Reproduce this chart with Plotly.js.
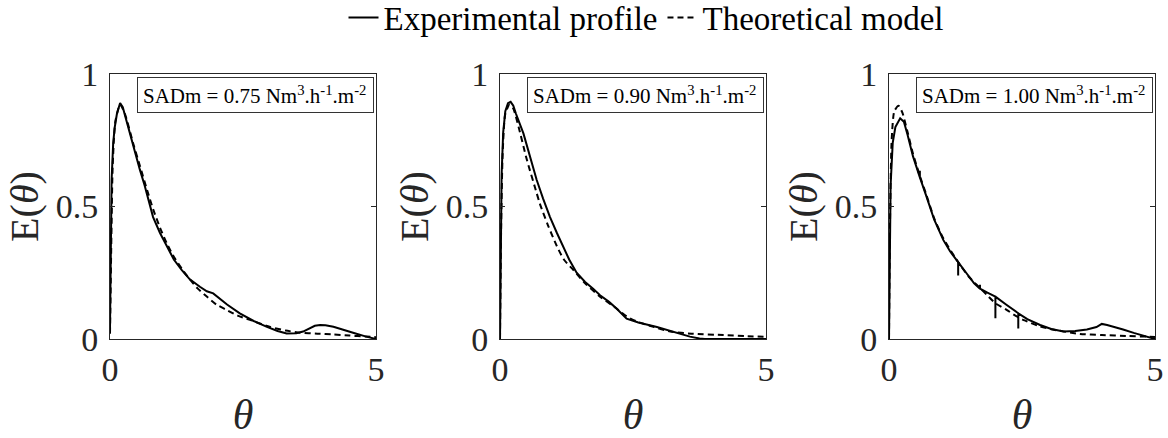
<!DOCTYPE html>
<html>
<head>
<meta charset="utf-8">
<script src="https://cdn.plot.ly/plotly-3.0.1.min.js"></script>
<style>html,body{margin:0;padding:0;background:#fff;}#chart{width:1168px;height:438px;}</style>
</head>
<body>
<div id="chart"></div>
<script>
// ---- Data ----
const panelLabels = ["SADm = 0.75 Nm<sup>3</sup>.h<sup>-1</sup>.m<sup>-2</sup>",
                     "SADm = 0.90 Nm<sup>3</sup>.h<sup>-1</sup>.m<sup>-2</sup>",
                     "SADm = 1.00 Nm<sup>3</sup>.h<sup>-1</sup>.m<sup>-2</sup>"];
const seriesNames = ["Experimental profile", "Theoretical model"];

// Panel 1 (SADm = 0.75)
const exp1Theta = [0, 0.01, 0.03, 0.06, 0.09, 0.13, 0.19, 0.24, 0.28, 0.35, 0.44, 0.50, 0.56, 0.65, 0.81, 0.94, 1.07, 1.20, 1.35, 1.50, 1.69, 1.82, 1.94, 2.05, 2.20, 2.44, 2.70, 2.95, 3.15, 3.32, 3.50, 3.63, 3.75, 3.85, 3.95, 4.05, 4.20, 4.40, 4.60, 4.80, 4.95, 5.00];
const exp1E     = [0.04, 0.25, 0.60, 0.74, 0.80, 0.85, 0.89, 0.875, 0.845, 0.79, 0.726, 0.68, 0.64, 0.58, 0.46, 0.40, 0.35, 0.30, 0.26, 0.225, 0.197, 0.18, 0.172, 0.155, 0.13, 0.097, 0.068, 0.046, 0.030, 0.021, 0.022, 0.028, 0.040, 0.050, 0.053, 0.052, 0.046, 0.035, 0.022, 0.010, 0.003, 0.0];
const mod1Theta = [0, 0.02, 0.05, 0.10, 0.19, 0.28, 0.44, 0.56, 0.70, 0.81, 0.94, 1.07, 1.20, 1.35, 1.50, 1.65, 1.82, 2.00, 2.19, 2.40, 2.63, 3.00, 3.30, 3.57, 3.90, 4.20, 4.50, 4.82, 5.00];
const mod1E     = [0.02, 0.30, 0.65, 0.82, 0.885, 0.85, 0.735, 0.655, 0.56, 0.49, 0.42, 0.36, 0.31, 0.265, 0.225, 0.19, 0.16, 0.13, 0.11, 0.088, 0.072, 0.046, 0.032, 0.024, 0.020, 0.017, 0.013, 0.009, 0.007];

// Panel 2 (SADm = 0.90)
const exp2Theta = [0, 0.01, 0.03, 0.06, 0.10, 0.15, 0.20, 0.25, 0.30, 0.44, 0.56, 0.69, 0.81, 0.94, 1.07, 1.19, 1.30, 1.44, 1.60, 1.75, 1.88, 2.05, 2.19, 2.38, 2.60, 2.95, 3.20, 3.40, 3.57, 3.75, 3.85, 5.00];
const exp2E     = [0.0, 0.30, 0.62, 0.78, 0.86, 0.89, 0.895, 0.88, 0.85, 0.776, 0.69, 0.60, 0.53, 0.46, 0.40, 0.35, 0.30, 0.25, 0.215, 0.19, 0.165, 0.14, 0.115, 0.077, 0.062, 0.045, 0.030, 0.017, 0.009, 0.002, 0.0, 0.0];
const mod2Theta = [0, 0.02, 0.05, 0.10, 0.18, 0.25, 0.35, 0.50, 0.69, 0.75, 0.90, 1.07, 1.20, 1.38, 1.60, 1.88, 2.19, 2.38, 2.57, 2.90, 3.20, 3.60, 4.20, 4.60, 5.00];
const mod2E     = [0.0, 0.40, 0.70, 0.85, 0.885, 0.87, 0.80, 0.68, 0.55, 0.51, 0.43, 0.35, 0.30, 0.26, 0.21, 0.16, 0.115, 0.085, 0.066, 0.045, 0.028, 0.020, 0.015, 0.011, 0.008];

// Panel 3 (SADm = 1.00) – experimental trace has sharp sampling spikes
const exp3Theta = [0, 0.01, 0.03, 0.07, 0.12, 0.21, 0.28, 0.35, 0.45, 0.58, 0.58, 0.58, 0.70, 0.85, 1.02, 1.15, 1.30, 1.30, 1.30, 1.45, 1.60, 1.71, 1.71, 1.71, 1.85, 2.00, 2.00, 2.00, 2.20, 2.43, 2.43, 2.43, 2.60, 2.84, 3.05, 3.28, 3.50, 3.72, 3.90, 4.00, 4.10, 4.22, 4.40, 4.60, 4.80, 4.97, 5.00];
const exp3E     = [0.0, 0.30, 0.58, 0.74, 0.80, 0.833, 0.82, 0.77, 0.69, 0.61, 0.635, 0.61, 0.54, 0.45, 0.374, 0.33, 0.29, 0.24, 0.29, 0.25, 0.21, 0.19, 0.205, 0.19, 0.175, 0.16, 0.078, 0.16, 0.13, 0.097, 0.04, 0.097, 0.075, 0.053, 0.038, 0.028, 0.030, 0.036, 0.045, 0.057, 0.053, 0.047, 0.036, 0.023, 0.011, 0.003, 0.0];
const mod3Theta = [0, 0.02, 0.05, 0.10, 0.18, 0.25, 0.35, 0.45, 0.58, 0.70, 0.85, 1.02, 1.30, 1.50, 1.70, 1.84, 2.00, 2.21, 2.40, 2.55, 2.80, 3.10, 3.59, 4.00, 4.50, 4.85, 5.00];
const mod3E     = [0.0, 0.45, 0.75, 0.86, 0.88, 0.855, 0.78, 0.70, 0.615, 0.545, 0.455, 0.38, 0.29, 0.235, 0.195, 0.166, 0.135, 0.11, 0.085, 0.07, 0.05, 0.035, 0.019, 0.015, 0.011, 0.009, 0.008];

const xTicks = [0, 5];
const xTickText = ["0", "5"];
const yTicks = [0, 0.5, 1];
const yTickText = ["0", "0.5", "1"];

// ---- Build ----
const FONT = "'Times New Roman', 'Liberation Serif', Times, serif";
const AX = "#262626";
const panels = [
  {exp: [exp1Theta, exp1E], mod: [mod1Theta, mod1E]},
  {exp: [exp2Theta, exp2E], mod: [mod2Theta, mod2E]},
  {exp: [exp3Theta, exp3E], mod: [mod3Theta, mod3E]}
];
const W = 1168, H = 438;
const xDomains = [[110/W, 376/W], [500/W, 766/W], [889/W, 1155/W]];
const yDomain = [1 - 339/H, 1 - 74/H];

const data = [];
const layout = {
  width: W, height: H,
  margin: {l: 0, r: 0, t: 0, b: 0, autoexpand: false},
  paper_bgcolor: "#fff", plot_bgcolor: "#fff",
  font: {family: FONT, color: "#000"},
  showlegend: true,
  legend: {orientation: "h", x: 646/W, xanchor: "center", y: 1.024, yanchor: "top",
           font: {family: FONT, size: 33, color: "#000"}, itemwidth: 30,
           bgcolor: "rgba(0,0,0,0)", tracegroupgap: 0, traceorder: "normal"},
  annotations: []
};

panels.forEach((p, i) => {
  const xa = i === 0 ? "x" : "x" + (i + 1);
  const ya = i === 0 ? "y" : "y" + (i + 1);
  data.push({x: p.exp[0], y: p.exp[1], xaxis: xa, yaxis: ya, type: "scatter", mode: "lines",
             name: seriesNames[0], legendgroup: "exp", showlegend: i === 0,
             line: {color: "#000", width: 2}});
  data.push({x: p.mod[0], y: p.mod[1], xaxis: xa, yaxis: ya, type: "scatter", mode: "lines",
             name: seriesNames[1], legendgroup: "mod", showlegend: i === 0,
             line: {color: "#000", width: 2, dash: "6px,4px", shape: "spline", smoothing: 0.6}});
  const axCommon = {showgrid: false, zeroline: false, showline: true, linecolor: AX, linewidth: 1,
                    mirror: "ticks", ticks: "inside", ticklen: 5, tickcolor: AX, tickwidth: 1,
                    tickfont: {family: FONT, size: 34, color: "#262626"}, fixedrange: true,
                    automargin: false};
  layout["xaxis" + (i === 0 ? "" : i + 1)] = Object.assign({}, axCommon, {
    domain: xDomains[i], anchor: ya, range: [0, 5], tickmode: "array", tickvals: xTicks, ticktext: xTickText,
    ticklabelstandoff: 0,
    title: {text: "<i>θ</i>", font: {family: FONT, size: 42, color: "#262626"}, standoff: 15}
  });
  layout["yaxis" + (i === 0 ? "" : i + 1)] = Object.assign({}, axCommon, {
    domain: yDomain, anchor: xa, range: [0, 1], tickmode: "array", tickvals: yTicks, ticktext: yTickText,
    ticklabelstandoff: 4,
    title: {text: "E(<i>θ</i>)", font: {family: FONT, size: 40, color: "#262626"}, standoff: 4}
  });
  layout.annotations.push({
    xref: xa + " domain", yref: ya + " domain", x: 1, y: 1, xanchor: "right", yanchor: "top",
    xshift: -2, yshift: -3, showarrow: false, text: panelLabels[i], align: "left",
    width: 225, height: 24,
    font: {family: FONT, size: 21, color: "#000"},
    bordercolor: "#333", borderwidth: 1, borderpad: 5, bgcolor: "#fff"
  });
});

Plotly.newPlot("chart", data, layout, {staticPlot: true, displayModeBar: false});
</script>
</body>
</html>
